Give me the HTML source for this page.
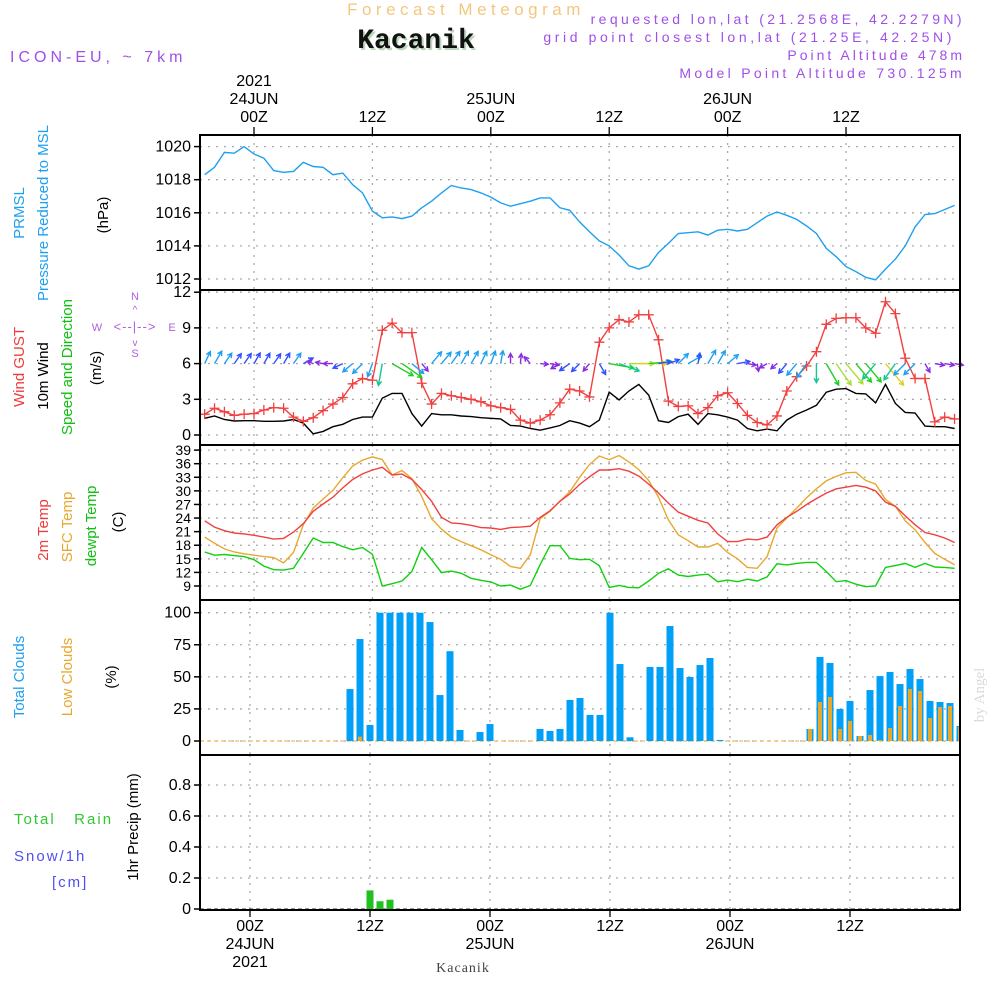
<!DOCTYPE html>
<html><head><meta charset="utf-8"><style>
html,body{margin:0;padding:0;background:#fff;}
svg{display:block;font-family:"Liberation Sans",sans-serif;}
</style></head><body>
<svg id="chart" width="1000" height="1000" viewBox="0 0 1000 1000" xmlns="http://www.w3.org/2000/svg">
<g id="hdr">
<text x="466" y="15" text-anchor="middle" font-size="17" letter-spacing="4.5" fill="#f3c77e" font-family="Liberation Sans, sans-serif">Forecast Meteogram</text>
<text x="418" y="50" text-anchor="middle" font-size="28" font-weight="bold" fill="#bcd8bc" font-family="Liberation Mono, monospace">Kacanik</text>
<text x="416" y="48" text-anchor="middle" font-size="28" font-weight="bold" fill="#111" font-family="Liberation Mono, monospace">Kacanik</text>
<text x="10" y="62" font-size="16" letter-spacing="4" fill="#a050e8">ICON-EU, ~ 7km</text>
<text x="965" y="24" text-anchor="end" font-size="14" letter-spacing="3.4" fill="#a050e8">requested lon,lat (21.2568E, 42.2279N)</text>
<text x="955" y="42" text-anchor="end" font-size="14" letter-spacing="3.6" fill="#a050e8">grid point closest lon,lat (21.25E, 42.25N)</text>
<text x="965" y="60" text-anchor="end" font-size="14" letter-spacing="3" fill="#a050e8">Point Altitude 478m</text>
<text x="965" y="78" text-anchor="end" font-size="14" letter-spacing="3.3" fill="#a050e8">Model Point Altitude 730.125m</text>
</g>
<g id="grid"></g>
<g id="marks"></g>
<g id="frame"></g>
<g id="labels" font-size="15">
<text transform="translate(24,213) rotate(-90)" text-anchor="middle" fill="#1ea0f0">PRMSL</text>
<text transform="translate(48,213) rotate(-90)" text-anchor="middle" fill="#1ea0f0">Pressure  Reduced to MSL</text>
<text transform="translate(108,215) rotate(-90)" text-anchor="middle" fill="#000">(hPa)</text>
<text transform="translate(24,367) rotate(-90)" text-anchor="middle" fill="#f03c3c">Wind GUST</text>
<text transform="translate(48,376) rotate(-90)" text-anchor="middle" fill="#000">10m Wind</text>
<text transform="translate(72,367) rotate(-90)" text-anchor="middle" fill="#10c010">Speed and Direction</text>
<text transform="translate(101,368) rotate(-90)" text-anchor="middle" fill="#000">(m/s)</text>
<g fill="#b060e0" font-size="11" text-anchor="middle">
<text x="135" y="300">N</text><text x="135" y="357">S</text><text x="97" y="331">W</text><text x="172" y="331">E</text>
<text x="135" y="331" font-size="13" letter-spacing="1">&lt;--|--&gt;</text>
<text x="135" y="313" font-size="10">^</text><text x="135" y="346" font-size="10">v</text>
</g>
<text transform="translate(48,530) rotate(-90)" text-anchor="middle" fill="#f03c3c">2m Temp</text>
<text transform="translate(72,527) rotate(-90)" text-anchor="middle" fill="#e8a830">SFC Temp</text>
<text transform="translate(96,526) rotate(-90)" text-anchor="middle" fill="#10c010">dewpt Temp</text>
<text transform="translate(123,522) rotate(-90)" text-anchor="middle" fill="#000">(C)</text>
<text transform="translate(24,677) rotate(-90)" text-anchor="middle" fill="#1ea0f0">Total Clouds</text>
<text transform="translate(72,677) rotate(-90)" text-anchor="middle" fill="#e8a830">Low Clouds</text>
<text transform="translate(116,677) rotate(-90)" text-anchor="middle" fill="#000">(%)</text>
<text transform="translate(138,827) rotate(-90)" text-anchor="middle" fill="#000">1hr Precip (mm)</text>
<text x="14" y="824" fill="#30c830" letter-spacing="2" xml:space="preserve">Total   Rain</text>
<text x="14" y="861" fill="#5050f0" letter-spacing="2">Snow/1h</text>
<text x="52" y="887" fill="#5050f0" letter-spacing="2">[cm]</text>
<text transform="translate(984,695) rotate(-90)" text-anchor="middle" fill="#d8dcd8" font-family="Liberation Serif, serif" font-size="15">by Angel</text>
<text x="463" y="972" text-anchor="middle" fill="#444" font-family="Liberation Serif, serif" font-size="14" letter-spacing="1">Kacanik</text>
</g>
</svg>
<script>
const NS='http://www.w3.org/2000/svg';
// hourly data: index i -> hour (i-5) relative to 24JUN 00Z
const pressure=[1018.3,1018.75,1019.65,1019.6,1020.0,1019.55,1019.3,1018.55,1018.45,1018.5,1019.05,1018.8,1018.75,1018.3,1018.4,1017.7,1017.2,1016.1,1015.7,1015.75,1015.65,1015.8,1016.3,1016.7,1017.2,1017.65,1017.5,1017.4,1017.2,1016.95,1016.6,1016.4,1016.55,1016.7,1016.9,1016.9,1016.3,1016.15,1015.45,1014.85,1014.3,1014.0,1013.45,1012.8,1012.6,1012.8,1013.6,1014.15,1014.75,1014.8,1014.85,1014.65,1014.95,1015.0,1014.9,1015.0,1015.4,1015.8,1016.05,1015.85,1015.6,1015.2,1014.75,1013.85,1013.35,1012.75,1012.45,1012.1,1011.95,1012.6,1013.2,1014.0,1015.15,1015.9,1015.95,1016.2,1016.45];
const wind10m=[1.4,1.6,1.3,1.18,1.2,1.2,1.15,1.15,1.18,1.3,1.0,0.1,0.3,0.7,0.9,1.3,1.5,1.5,3.1,3.5,3.5,1.8,0.75,1.8,1.7,1.7,1.6,1.55,1.45,1.4,1.35,0.8,0.75,0.55,0.4,0.6,0.8,1.2,1.0,0.7,1.25,3.6,2.95,3.7,4.25,3.35,1.2,1.05,1.55,1.75,0.9,1.8,1.7,1.5,1.25,0.55,0.35,0.5,0.35,1.25,1.75,2.1,2.5,3.6,3.85,3.9,3.5,3.45,2.7,4.25,2.65,1.9,1.85,0.75,0.7,0.7,0.55];
const gust=[1.75,2.25,1.95,1.65,1.75,1.8,2.1,2.3,2.25,1.5,1.15,1.45,2.05,2.6,3.15,4.3,4.75,4.6,8.8,9.4,8.6,8.6,4.35,2.6,3.5,3.3,3.15,3.0,2.8,2.45,2.3,2.15,1.25,1.0,1.25,1.7,2.7,3.85,3.7,3.2,7.8,9.0,9.7,9.5,10.1,10.1,8.0,2.85,2.4,2.45,1.8,2.3,3.3,3.55,2.65,1.65,1.05,0.85,1.6,3.7,4.9,5.8,7.0,9.3,9.8,9.85,9.85,9.0,8.55,11.2,10.2,6.45,4.75,4.75,1.1,1.5,1.35];
const windDir=[25,30,35,35,35,30,30,35,30,35,60,290,280,270,245,230,225,200,190,120,125,130,140,40,40,35,30,30,25,20,10,0,5,320,95,100,240,235,225,220,150,100,110,90,90,85,80,70,45,60,10,30,30,50,80,100,170,240,230,220,220,215,180,150,145,140,140,140,220,140,215,225,225,150,100,100,100];
const temp2m=[23.4,22.0,21.2,20.7,20.5,20.2,19.8,19.35,19.5,20.9,22.75,25.5,27.1,28.6,30.65,32.5,33.75,34.6,35.2,33.5,33.7,32.5,30.3,27.7,24.15,22.9,22.75,22.4,21.9,21.8,21.5,21.9,22.0,22.2,24.15,25.6,27.7,29.3,31.4,33.1,34.6,34.6,34.9,34.35,33.25,31.5,29.5,27.3,25.3,24.4,23.5,22.9,20.5,18.8,18.8,19.35,19.2,19.8,22.5,24.15,25.5,27.0,28.3,29.5,30.45,30.8,31.2,30.8,30.0,27.5,26.6,24.5,22.5,20.8,20.3,19.6,18.6];
const tempSfc=[19.8,18.45,17.2,16.5,16.1,15.8,15.5,15.3,14.1,16.4,22.5,26.2,28.2,30.1,32.9,35.5,36.8,37.5,36.9,33.5,34.5,32.7,28.8,23.85,21.55,19.8,18.8,17.9,17.0,15.9,14.9,13.3,12.9,15.9,23.85,25.5,27.7,29.8,33.0,35.8,37.7,36.9,37.8,36.4,34.7,32.3,28.6,23.6,20.3,19.0,17.6,17.6,18.4,16.4,15.0,13.1,12.9,15.5,21.8,24.0,26.2,28.5,30.45,32.2,33.2,34.0,34.1,32.3,31.5,28.1,26.6,23.4,21.4,18.6,16.2,14.9,13.7];
const dewpt=[16.5,15.8,15.95,15.7,15.5,14.8,13.4,12.6,12.5,12.9,16.2,19.6,18.6,18.6,17.7,17.0,17.5,16.0,9.0,9.5,10.1,12.2,17.5,14.8,11.95,12.3,11.8,10.7,10.25,9.9,9.0,9.2,8.3,9.1,13.7,17.9,17.9,15.1,14.8,14.9,13.5,8.7,9.1,8.7,8.6,10.1,11.8,12.8,11.4,11.1,11.4,11.6,9.95,10.3,9.95,10.5,10.1,11.0,13.9,13.65,14.0,14.2,14.2,12.2,9.95,10.2,9.4,8.85,9.0,13.1,13.5,14.0,13.1,14.0,13.2,13.1,12.9];
// clouds: hours t = -4 .. 71
const totalClouds=[0,0,0,0,0,0,0,0,0,0,0,0,0,0,40.5,79.5,12.5,100,100,100,100,100,92.7,35.8,70,8.6,0,7,13.2,0,0,0,0,9.4,7.8,9.4,32,33.5,20.3,20.3,100,60,2.9,0,57.7,57.7,89.6,56.9,49.9,59.2,64.7,0.8,0,0,0,0,0,0,0,0,9.4,65.5,60.8,25,31.2,3.9,39.7,50.6,53.8,44.4,56.1,48.3,31.2,30.4,29.6,11.7];
const lowClouds=[0,0,0,0,0,0,0,0,0,0,0,0,0,0,0,3.4,0,0,0,0,0,0,0,0,0,0,0,0,0,0,0,0,0,0,0,0,0,0,0,0,0,0,0,0,0,0,0,0,0,0,0,0,0,0,0,0,0,0,0,0,9.4,30.4,34.3,9.4,15.6,3.9,4.7,0.8,10.1,27.3,40.5,39,17.9,26.5,27.3,10.9];
const precipHours=[12,13,14];
const precip=[0.12,0.05,0.06];
const pTicks=[1012,1014,1016,1018,1020];
const wTicks=[0,3,6,9,12];
const tTicks=[9,12,15,18,21,24,27,30,33,36,39];
const cTicks=[0,25,50,75,100];
const rTicks=[0,0.2,0.4,0.6,0.8];

const xTop=h=>254+9.867*h;      // upper three panels
const xBot=h=>250+10*h;          // lower two panels
const yP=v=>279-(v-1012)*16.55;
const yW=v=>435-11.9*v;
const yT=v=>586-(v-9)*4.53;
const yC=v=>741-1.283*v;
const yR=v=>909-155*v;
const L=200,R=960;
const panels=[[135,290],[290,445],[445,600],[600,755],[755,910]];

const g=document.getElementById('grid'),m=document.getElementById('marks'),f=document.getElementById('frame'),lab=document.getElementById('labels');
function el(tag,attrs,parent){const e=document.createElementNS(NS,tag);for(const k in attrs)e.setAttribute(k,attrs[k]);parent.appendChild(e);return e;}

function yAxis(ticks,fy,name,fmt,top,bot){
  ticks.forEach(v=>{
    const y=fy(v);
    if(y>top+1&&y<bot-1){const gl=el('line',{x1:L,x2:R,y1:y,y2:y,stroke:'#aaa','stroke-width':1.3,'stroke-dasharray':'2,6'},g);
      
      }
    const t=el('line',{x1:L-6,x2:L,y1:y,y2:y,stroke:'#000','stroke-width':1.5},f);
    
    
    const tx=el('text',{x:L-9,y:y+5,'text-anchor':'end','font-size':name==='temp'?14:16,fill:'#000'},lab);
    tx.textContent=fmt(v);
    
    
  });
}
yAxis(pTicks,yP,'pressure',v=>String(v),135,290);
yAxis(wTicks,yW,'wind',v=>String(v),290,445);
yAxis(tTicks,yT,'temp',v=>String(v),445,600);
yAxis(cTicks,yC,'clouds',v=>String(v),600,755);
yAxis(rTicks,yR,'precip',v=>v===0?'0':v.toFixed(1),755,910);

const vHours=[0,12,24,36,48,60];
vHours.forEach(h=>{
  [[0,xTop],[1,xTop],[2,xTop],[3,xBot],[4,xBot]].forEach(([pi,fx])=>{
    const x=fx(h);const vl=el('line',{x1:x,x2:x,y1:panels[pi][0],y2:panels[pi][1],stroke:'#aaa','stroke-width':1.3,'stroke-dasharray':'2,6'},g);
    
    
  });
  const tt=el('line',{x1:xTop(h),x2:xTop(h),y1:127,y2:135,stroke:'#000','stroke-width':1.3},f);
  
  
  const bt=el('line',{x1:xBot(h),x2:xBot(h),y1:910,y2:917,stroke:'#000','stroke-width':1.3},f);
  
  
});
const topLabels=[[0,['2021','24JUN','00Z']],[12,['12Z']],[24,['25JUN','00Z']],[36,['12Z']],[48,['26JUN','00Z']],[60,['12Z']]];
topLabels.forEach(([h,arr])=>{arr.forEach((s,k)=>{const y=122-(arr.length-1-k)*18;const t=el('text',{x:xTop(h),y:y,'text-anchor':'middle','font-size':16,fill:'#000'},lab);t.textContent=s;
  
  });});
const botLabels=[[0,['00Z','24JUN','2021']],[12,['12Z']],[24,['00Z','25JUN']],[36,['12Z']],[48,['00Z','26JUN']],[60,['12Z']]];
botLabels.forEach(([h,arr])=>{arr.forEach((s,k)=>{const t=el('text',{x:xBot(h),y:931+k*18,'text-anchor':'middle','font-size':16,fill:'#000'},lab);t.textContent=s;
  
  });});

function line(vals,fy,color,name){
  const pts=vals.map((v,i)=>xTop(i-5).toFixed(1)+','+fy(v).toFixed(1)).join(' ');
  const p=el('polyline',{points:pts,fill:'none',stroke:color,'stroke-width':1.4},m);
  
  
}
line(pressure,yP,'#1ea0f0','pressure-line');
line(wind10m,yW,'#000','wind-10m-line');
line(gust,yW,'#f04040','wind-gust-line');
gust.forEach((v,i)=>{const x=xTop(i-5),y=yW(v);
  const c=el('path',{d:`M${x-5},${y}H${x+5}M${x},${y-5}V${y+5}`,stroke:'#f04040','stroke-width':1.3},m);
  
  });
line(tempSfc,yT,'#e8a830','sfc-temp-line');
line(temp2m,yT,'#f04040','temp-2m-line');
line(dewpt,yT,'#10d010','dewpt-line');

function spdColor(s){if(s<0.9)return '#8a2be2';if(s<1.3)return '#3050ff';if(s<2.2)return '#1ea0f0';if(s<3.2)return '#10c890';if(s<3.7)return '#20d020';if(s<4.1)return '#a8e030';return '#e0d020';}
windDir.forEach((d,i)=>{
  const s=wind10m[i];const len=6+5.2*s;const a=d*Math.PI/180;
  const x0=xTop(i-5),y0=yW(6);const x1=x0+len*Math.sin(a),y1=y0-len*Math.cos(a);
  const hx1=x1-5*Math.sin(a-0.5),hy1=y1+5*Math.cos(a-0.5),hx2=x1-5*Math.sin(a+0.5),hy2=y1+5*Math.cos(a+0.5);
  const ar=el('path',{d:`M${x0},${y0}L${x1},${y1}M${hx1},${hy1}L${x1},${y1}L${hx2},${hy2}`,stroke:spdColor(s),'stroke-width':1.4,fill:'none'},m);
  
  
});

const base=el('line',{x1:L,x2:R,y1:yC(0),y2:yC(0),stroke:'#e8a830','stroke-width':1,'stroke-dasharray':'4,3'},m);


totalClouds.forEach((v,k)=>{const h=k-4;const x=xBot(h);if(v<=0)return;
  const w=Math.min(7,R-(x-3.5));
  const r=el('rect',{x:x-3.5,y:yC(v),width:w,height:yC(0)-yC(v),fill:'#00a0f8'},m);
  
  });
lowClouds.forEach((v,k)=>{const h=k-4;const x=xBot(h);if(v<=0)return;
  const w=Math.min(4,R-(x-2));
  const r=el('rect',{x:x-2,y:yC(v),width:w,height:yC(0)-yC(v),fill:'#e8a830'},m);
  
  });

const pb=el('line',{x1:L,x2:R,y1:yR(0),y2:yR(0),stroke:'#333','stroke-width':1,'stroke-dasharray':'4,3'},m);


precip.forEach((v,k)=>{const x=xBot(precipHours[k]);
  const r=el('rect',{x:x-3.5,y:yR(v),width:7,height:yR(0)-yR(v),fill:'#20c020'},m);
  
  });

panels.forEach((p,k)=>{const r=el('rect',{x:L,y:p[0],width:R-L,height:p[1]-p[0],fill:'none',stroke:'#000','stroke-width':2},f);
  
  });
</script>
</body></html>
